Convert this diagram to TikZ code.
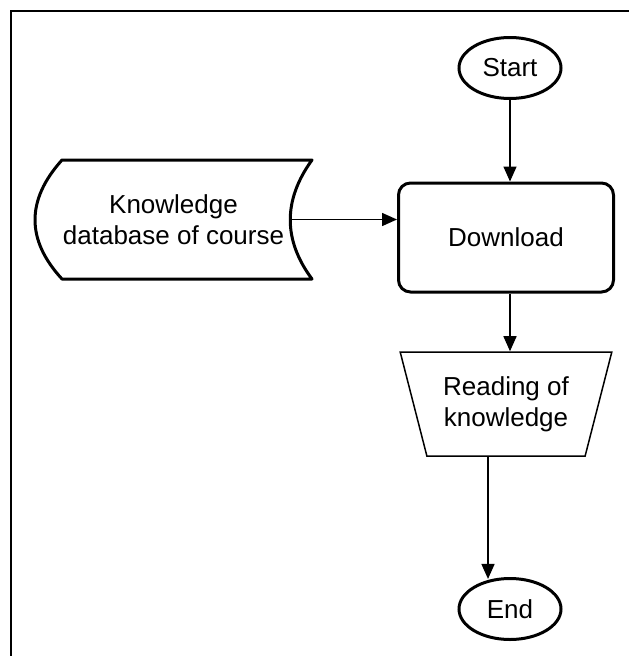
\documentclass[tikz,border=0pt]{standalone}
\usepackage{fontspec}
\setmainfont{Liberation Sans}
\usetikzlibrary{arrows.meta,shapes.geometric}
\begin{document}
\begin{tikzpicture}[x=1pt,y=-1pt,
  every node/.style={font=\fontsize{26}{31}\selectfont, align=center, inner sep=0pt},
  terminal/.style={ellipse, draw, line width=3pt, minimum width=102pt, minimum height=61pt},
  process/.style={rectangle, rounded corners=12pt, draw, line width=3pt, minimum width=215pt, minimum height=109pt},
  manual/.style={trapezium, draw, line width=1.5pt, shape border rotate=180, trapezium stretches=true,
    trapezium left angle=69, trapezium right angle=69, minimum width=212pt, minimum height=104pt},
  datasrc/.style={minimum width=277pt, minimum height=119pt},
  store/.style={line width=3pt, line join=round},
  flow/.style={line width=1.5pt, -{Triangle[length=15pt,width=13pt]}},
  frameline/.style={line width=2pt}]
\useasboundingbox (0,0) rectangle (629,656);

% outer frame (only its top and left edges fall on the page)
\draw[frameline] (11,680) -- (11,11) -- (660,11);

% flowchart nodes
\node[terminal] (start) at (510,68) {Start};
\node[process] (dl) at (506,237.5) {Download};
\node[manual] (read) at (506,404) {Reading of\\knowledge};
\node[terminal] (end) at (510,609) {End};
\node[datasrc] (kdb) at (173.5,219.5) {Knowledge\\database of course};

% stored-data outline around the knowledge database
\draw[store] (62,160) -- (312,160)
  .. controls (283,200) and (283,240) .. (312,279)
  -- (62,279)
  .. controls (26,240) and (26,200) .. (62,160) -- cycle;

% connectors
\draw[flow] (start.south) -- (start.south |- dl.north);
\draw[flow] ([xshift=-22pt]kdb.east) -- (kdb.east -| dl.west);
\draw[flow] (start.south |- dl.south) -- (start.south |- read.north);
\draw[flow] ([xshift=-18pt]read.south) -- ([xshift=-18pt]read.south |- end.121);
\end{tikzpicture}
\end{document}
